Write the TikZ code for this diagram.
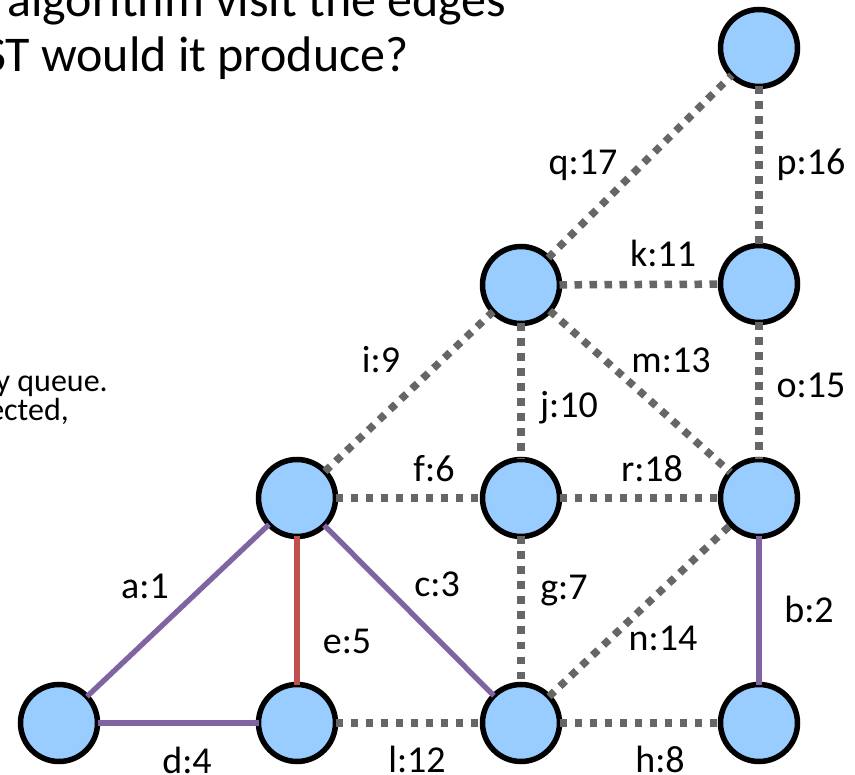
\documentclass[tikz,border=0pt]{standalone}
\usepackage{fontspec}
\setmainfont{Carlito}
\definecolor{nodefill}{RGB}{153,204,255}
\definecolor{dotgray}{RGB}{102,102,102}
\definecolor{mstpurple}{RGB}{128,100,162}
\definecolor{mstred}{RGB}{192,80,77}
\tikzset{
  vtx/.style={circle, draw=black, line width=5.5pt, fill=nodefill, minimum size=77pt, inner sep=0pt, outer sep=0pt},
  dotedge/.style={draw=dotgray, line width=7.5pt, dash pattern=on 7.5pt off 7.5pt},
  purpleedge/.style={draw=mstpurple, line width=5.3pt},
  rededge/.style={draw=mstred, line width=5.3pt},
  elabel/.style={font=\fontsize{38}{40}\selectfont, inner sep=0pt, anchor=base},
  bigtext/.style={font=\fontsize{50}{55}\selectfont, inner sep=0pt},
  smalltext/.style={font=\fontsize{32}{34}\selectfont, inner sep=0pt, anchor=base east}
}
\begin{document}
\begin{tikzpicture}[x=1pt,y=-1pt]
\clip (0,0) rectangle (855,775);
\fill[white] (0,0) rectangle (855,775);

% heading text (cut off by the frame)
\node[bigtext, anchor=base west] (t1) at (7,17) {algorithm visit the edges};
\node[bigtext, anchor=base east] (t2) at (409,72) {ST would it produce?};
\node[smalltext] (s1) at (108,392) {y queue.};
\node[smalltext] (s2) at (69,421) {ected,};

% vertices
\node[vtx] (TR) at (759,48) {};
\node[vtx] (P)  at (759,284) {};
\node[vtx] (Q)  at (521,285) {};
\node[vtx] (L)  at (297,498) {};
\node[vtx] (C)  at (521,498) {};
\node[vtx] (R)  at (759,498) {};
\node[vtx] (BL) at (59,723) {};
\node[vtx] (B2) at (297,723) {};
\node[vtx] (B3) at (521,723) {};
\node[vtx] (BR) at (759,723) {};

% non-tree edges
\draw[dotedge] (L) -- (C);
\draw[dotedge] (L) -- (Q);
\draw[dotedge] (Q) -- (C);
\draw[dotedge] (C) -- (B3);
\draw[dotedge] (B2) -- (B3);
\draw[dotedge] (B3) -- (BR);
\draw[dotedge] (B3) -- (R);
\draw[dotedge] (C) -- (R);
\draw[dotedge] (Q) -- (R);
\draw[dotedge] (Q) -- (P);
\draw[dotedge] (P) -- (R);
\draw[dotedge] (TR) -- (P);
\draw[dotedge] (Q) -- (TR);

% tree edges
\draw[purpleedge] (L) -- (BL);
\draw[purpleedge] (BL) -- (B2);
\draw[purpleedge] (L) -- (B3);
\draw[purpleedge] (R) -- (BR);
\draw[rededge] (L) -- (B2);

% edge labels
\node[elabel] (lq) at (583,175) {q:17};
\node[elabel] (lp) at (811,175) {p:16};
\node[elabel] (lk) at (663,267) {k:11};
\node[elabel] (li) at (381,373) {i:9};
\node[elabel] (lm) at (671,373) {m:13};
\node[elabel] (lj) at (569,418) {j:10};
\node[elabel] (lo) at (811,398) {o:15};
\node[elabel] (lf) at (434,482) {f:6};
\node[elabel] (lr) at (652,482) {r:18};
\node[elabel] (la) at (145,599) {a:1};
\node[elabel] (lc) at (437,597) {c:3};
\node[elabel] (lg) at (564,600) {g:7};
\node[elabel] (le) at (347,653) {e:5};
\node[elabel] (ln) at (663,650) {n:14};
\node[elabel] (lb) at (809,623) {b:2};
\node[elabel] (ld) at (187,773) {d:4};
\node[elabel] (ll) at (417,772) {l:12};
\node[elabel] (lh) at (660,772) {h:8};
\end{tikzpicture}
\end{document}
